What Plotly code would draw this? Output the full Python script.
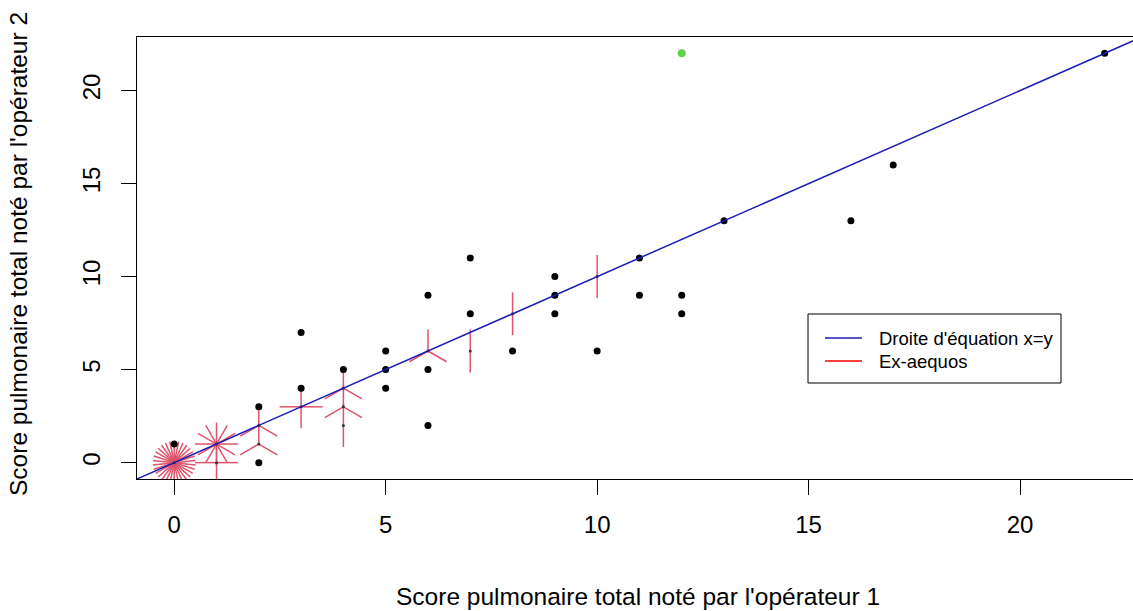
import numpy as np
import plotly.graph_objects as go

# points notés une seule fois (opérateur 1, opérateur 2)
single_x = [0, 2, 2, 3, 3, 4, 5, 5, 5, 6, 6, 6, 7, 7, 8, 9, 9, 9, 10, 11, 11, 12, 12, 13, 16, 17, 22]
single_y = [1, 3, 0, 7, 4, 5, 6, 5, 4, 9, 5, 2, 11, 8, 6, 10, 9, 8, 6, 11, 9, 9, 8, 13, 13, 16, 22]

# ex-aequos : position et nombre de patients
multi_x = [0, 1, 1, 2, 2, 3, 4, 4, 4, 6, 7, 8, 10]
multi_y = [0, 1, 0, 2, 1, 3, 4, 3, 2, 6, 6, 8, 10]
multi_n = [30, 12, 4, 3, 3, 4, 3, 3, 2, 3, 2, 2, 2]

# point isolé en vert
green_x = [12]
green_y = [22]

legend_labels = ["Droite d'équation x=y", "Ex-aequos"]
legend_colors = ["#1c1cb4", "red"]

x_range = [-0.88, 22.67]
y_range = [-0.88, 22.88]

W, H = 1133, 611
margin = dict(l=137, r=0, t=37, b=132)
pw = W - margin["l"] - margin["r"]
ph = H - margin["t"] - margin["b"]
px_x = pw / (x_range[1] - x_range[0])
px_y = ph / (y_range[1] - y_range[0])
petal = 21.5  # longueur des pétales en pixels
dx, dy = petal / px_x, petal / px_y


def fx(p):  # pixel -> fraction de la zone de tracé
    return (p - margin["l"]) / pw


def fy(p):
    return (H - margin["b"] - p) / ph


# pétales façon sunflowerplot
px_, py_ = [], []
for cx, cy, n in zip(multi_x, multi_y, multi_n):
    for k in range(1, n + 1):
        a = 2 * np.pi * k / n
        px_ += [cx, cx + dx * np.sin(a), None]
        py_ += [cy, cy + dy * np.cos(a), None]

fig = go.Figure()
fig.add_trace(go.Scatter(x=px_, y=py_, mode="lines", line=dict(color="#DF536B", width=1.5),
                         hoverinfo="skip"))
fig.add_trace(go.Scatter(x=multi_x, y=multi_y, mode="markers",
                         marker=dict(color="#333333", size=3)))
fig.add_trace(go.Scatter(x=single_x, y=single_y, mode="markers",
                         marker=dict(color="black", size=7)))
fig.add_trace(go.Scatter(x=[-1, 23], y=[-1, 23], mode="lines",
                         line=dict(color=legend_colors[0], width=1.5)))
fig.add_trace(go.Scatter(x=green_x, y=green_y, mode="markers",
                         marker=dict(color="#61D04F", size=8)))

font = "Liberation Sans, Arial, sans-serif"
fig.update_layout(
    width=W, height=H, margin=margin, showlegend=False,
    plot_bgcolor="white", paper_bgcolor="white",
    font=dict(family=font, color="black"),
)
fig.update_xaxes(range=x_range, tickvals=[0, 5, 10, 15, 20], showgrid=False, zeroline=False,
                 showline=True, linecolor="black", linewidth=1, mirror=True,
                 ticks="outside", ticklen=15, tickcolor="black",
                 tickfont=dict(size=24), ticklabelstandoff=9)
fig.update_yaxes(range=y_range, tickvals=[0, 5, 10, 15, 20], showgrid=False, zeroline=False,
                 showline=True, linecolor="black", linewidth=1,
                 ticks="outside", ticklen=15, tickcolor="black", tickangle=-90,
                 tickfont=dict(size=24), ticklabelstandoff=11)

# légende encadrée
fig.add_shape(type="rect", xref="paper", yref="paper", x0=fx(808), x1=fx(1061),
              y0=fy(383), y1=fy(314), line=dict(color="black", width=1), fillcolor="white")
for i, (lab, col) in enumerate(zip(legend_labels, legend_colors)):
    yy = fy(338 + 23 * i)
    fig.add_shape(type="line", xref="paper", yref="paper", x0=fx(825), x1=fx(862),
                  y0=yy, y1=yy, line=dict(color=col, width=1.5))
    fig.add_annotation(text=lab, xref="paper", yref="paper", x=fx(877), y=yy,
                       showarrow=False, xanchor="left", yanchor="middle", font=dict(size=18.5))

fig.add_annotation(text="Score pulmonaire total noté par l'opérateur 1", xref="paper", yref="paper",
                   x=fx(638), y=fy(596), showarrow=False,
                   font=dict(size=24.5), xanchor="center", yanchor="middle")
fig.add_annotation(text="Score pulmonaire total noté par l'opérateur 2", xref="paper", yref="paper",
                   x=fx(18), y=fy(254), showarrow=False,
                   textangle=-90, font=dict(size=24.5), xanchor="center", yanchor="middle")

fig.write_html("out.html", config={"displayModeBar": False},
               post_script="document.body.style.margin='0';")
